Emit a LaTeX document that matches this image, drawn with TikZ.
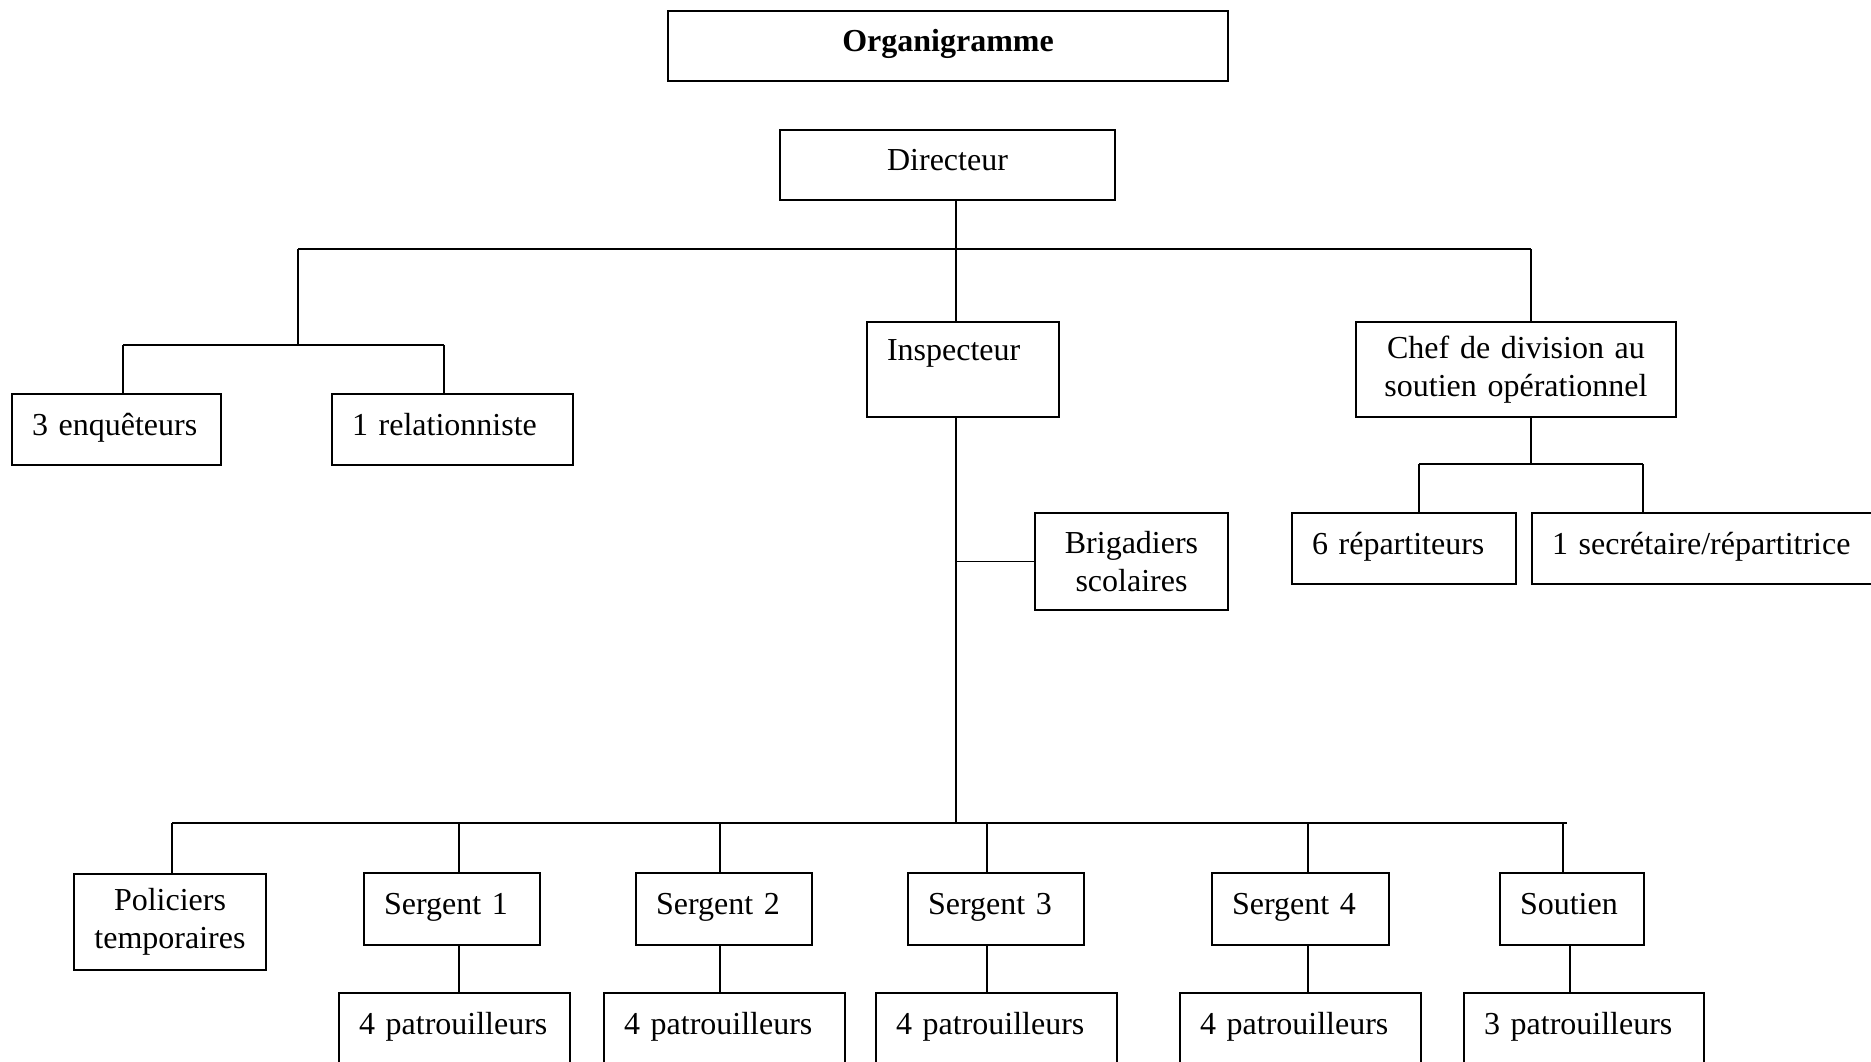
\documentclass[tikz,border=0pt]{standalone}
\usepackage{fontspec}
\setmainfont{Liberation Serif}
\tikzset{every node/.style={font=\fontsize{32}{38}\selectfont}, % Times-like text everywhere
         boite/.style={ % box with text on the left
           draw,
           line width=2pt,
           inner xsep=20pt,
           inner ysep=0pt,
           anchor=north west,
           align=left},
         centre/.style={boite, align=center}, % box with centred text
         seule/.style={text height=24pt, text depth=13pt}, % one line, set a bit high
         lien/.style={line width=1.6pt},       % plain connector
         barre/.style={line width=2.6pt}}      % horizontal bus

\begin{document}
\begin{tikzpicture}[x=1pt,y=-1pt]
\path[use as bounding box, fill=white] (0,0) rectangle (1871,1061);

% top
\node[centre, seule, text width=520pt, minimum height=70pt,
      font=\fontsize{32}{38}\selectfont\bfseries] (org) at (667,10) {Organigramme};
\node[centre, seule, text width=295pt, minimum height=70pt] (dir) at (779,129) {Directeur};

% second level
\node[boite, seule, text width=169pt, minimum height=71pt] (enq) at (11,393) {3 enquêteurs};
\node[boite, seule, text width=201pt, minimum height=71pt] (rel) at (331,393) {1 relationniste};
\node[boite, text width=152pt, minimum height=95pt] (insp) at (866,321) {Inspecteur\\\mbox{}};
\node[centre, text width=280pt, minimum height=95pt] (chef) at (1355,321) {Chef de division au\\soutien opérationnel};
\node[boite, seule, text width=184pt, minimum height=71pt] (rep) at (1291,512) {6 répartiteurs};
\node[boite, seule, text width=320pt, minimum height=71pt] (sec) at (1531,512) {1 secrétaire/répartitrice};
\node[centre, text width=153pt, minimum height=97pt] (brig) at (1034,512) {Brigadiers\\scolaires};

% bottom rows
\node[centre, text width=152pt, minimum height=96pt] (pol) at (73,873) {Policiers\\temporaires};
\node[boite, seule, text width=136pt, minimum height=72pt] (s1) at (363,872) {Sergent 1};
\node[boite, seule, text width=136pt, minimum height=72pt] (s2) at (635,872) {Sergent 2};
\node[boite, seule, text width=136pt, minimum height=72pt] (s3) at (907,872) {Sergent 3};
\node[boite, seule, text width=137pt, minimum height=72pt] (s4) at (1211,872) {Sergent 4};
\node[boite, seule, text width=104pt, minimum height=72pt] (sout) at (1499,872) {Soutien};
\node[boite, seule, text width=191pt, minimum height=71pt] (p1) at (338,992) {4 patrouilleurs};
\node[boite, seule, text width=201pt, minimum height=71pt] (p2) at (603,992) {4 patrouilleurs};
\node[boite, seule, text width=201pt, minimum height=71pt] (p3) at (875,992) {4 patrouilleurs};
\node[boite, seule, text width=201pt, minimum height=71pt] (p4) at (1179,992) {4 patrouilleurs};
\node[boite, seule, text width=200pt, minimum height=71pt] (p5) at (1463,992) {3 patrouilleurs};

% junctions
\coordinate (hd) at (956,249);
\coordinate (bg) at (298,249);
\coordinate (bd) at (1531,249);
\coordinate (ge) at (298,345);
\coordinate (ge1) at (123,345);
\coordinate (ge2) at (444,345);
\coordinate (cd) at (1531,464);
\coordinate (cd1) at (1419,464);
\coordinate (cd2) at (1643,464);
\coordinate (bi) at (956,823);
\coordinate (bb1) at (172,823);
\coordinate (bb2) at (1567,823);

\draw[lien] (dir.south -| hd) -- (hd |- insp.north);
\draw[barre] (bg) -- (bd);
\draw[lien] (bd) -- (bd |- chef.north);
\draw[lien] (bg) -- (ge);
\draw[barre] (ge1) -- (ge2);
\draw[lien] (ge1) -- (ge1 |- enq.north);
\draw[lien] (ge2) -- (ge2 |- rel.north);

\draw[lien] (chef.south -| cd) -- (cd);
\draw[barre] (cd1) -- (cd2);
\draw[lien] (cd1) -- (cd1 |- rep.north);
\draw[lien] (cd2) -- (cd2 |- sec.north);

\draw[lien] (insp.south -| bi) -- (bi);
\draw[lien] (brig.west -| bi) -- (brig.west);
\draw[barre] (bb1) -- (bb2);

\foreach \n/\x in {pol/172, s1/459, s2/720, s3/987, s4/1308, sout/1563} {
  \coordinate (d\n) at (\x,823);
  \draw[lien] (d\n) -- (d\n |- \n.north);
}
\foreach \n/\m/\x in {s1/p1/459, s2/p2/720, s3/p3/987, s4/p4/1308, sout/p5/1570} {
  \coordinate (e\n) at (\x,944);
  \draw[lien] (e\n |- \n.south) -- (e\n |- \m.north);
}
\end{tikzpicture}
\end{document}
